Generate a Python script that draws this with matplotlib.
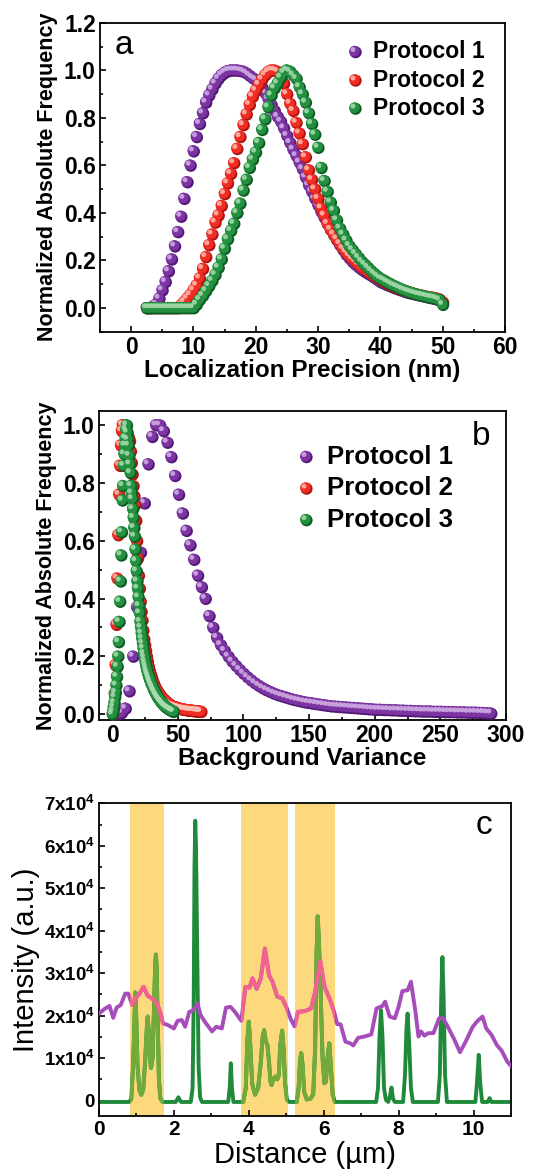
import numpy as np
import matplotlib
matplotlib.use("Agg")
import matplotlib.pyplot as plt
from matplotlib.transforms import ScaledTranslation
from matplotlib.patches import Rectangle
from matplotlib.ticker import MultipleLocator, FuncFormatter

plt.rcParams['font.family'] = ['Liberation Sans', 'DejaVu Sans']
plt.rcParams['font.weight'] = 'bold'
plt.rcParams['mathtext.fontset'] = 'custom'
plt.rcParams['mathtext.rm'] = 'Liberation Sans'
plt.rcParams['mathtext.bf'] = 'Liberation Sans:bold'

# ---------------- Panel a data ----------------
a_start, a_step = 2.5, 0.5   # bin grid (nm)
a_p1 = [0.0, 0.0, 0.005, 0.015, 0.04, 0.075, 0.11, 0.155, 0.205, 0.26,
        0.32, 0.385, 0.46, 0.53, 0.60, 0.66, 0.72, 0.775, 0.82, 0.865,
        0.895, 0.92, 0.945, 0.965, 0.98, 0.99, 0.997, 1.0, 1.0, 1.0,
        0.998, 0.995, 0.988, 0.978, 0.968, 0.96, 0.945, 0.928, 0.905, 0.88,
        0.855, 0.83, 0.805, 0.785, 0.757, 0.725, 0.695, 0.667, 0.64, 0.613,
        0.585, 0.55, 0.517, 0.49, 0.46, 0.433, 0.405, 0.38, 0.355, 0.33,
        0.308, 0.286, 0.265, 0.245, 0.225, 0.21, 0.195, 0.183, 0.172, 0.162,
        0.153, 0.145, 0.137, 0.128, 0.119, 0.11, 0.104, 0.098, 0.093, 0.087,
        0.082, 0.077, 0.073, 0.068, 0.064, 0.061, 0.058, 0.055, 0.052, 0.049,
        0.046, 0.043, 0.04, 0.037, 0.033, 0.02]
a_p2 = [0.0, 0.0, 0.0, 0.0, 0.0, 0.0, 0.0, 0.0, 0.0, 0.0,
        0.0, 0.01, 0.025, 0.04, 0.055, 0.075, 0.095, 0.125, 0.165, 0.215,
        0.265, 0.31, 0.36, 0.39, 0.43, 0.48, 0.525, 0.565, 0.61, 0.67,
        0.72, 0.77, 0.815, 0.855, 0.89, 0.915, 0.94, 0.962, 0.98, 0.993,
        1.0, 1.0, 0.995, 0.97, 0.945, 0.9, 0.86, 0.83, 0.78, 0.735,
        0.69, 0.635, 0.58, 0.54, 0.50, 0.46, 0.42, 0.39, 0.355, 0.33,
        0.31, 0.29, 0.27, 0.25, 0.235, 0.22, 0.207, 0.195, 0.183, 0.172,
        0.162, 0.153, 0.144, 0.135, 0.127, 0.119, 0.111, 0.104, 0.098, 0.092,
        0.086, 0.08, 0.076, 0.072, 0.068, 0.064, 0.06, 0.057, 0.054, 0.051,
        0.048, 0.046, 0.044, 0.041, 0.037, 0.025]
a_p3 = [0.0, 0.0, 0.0, 0.0, 0.0, 0.0, 0.0, 0.0, 0.0, 0.0,
        0.0, 0.0, 0.0, 0.0, 0.0, 0.0, 0.015, 0.035, 0.052, 0.072,
        0.093, 0.115, 0.14, 0.17, 0.205, 0.25, 0.29, 0.325, 0.355, 0.40,
        0.44, 0.495, 0.54, 0.59, 0.625, 0.655, 0.695, 0.75, 0.795, 0.845,
        0.895, 0.925, 0.945, 0.97, 0.99, 1.0, 0.995, 0.98, 0.965, 0.93,
        0.9, 0.865, 0.82, 0.775, 0.73, 0.675, 0.59, 0.535, 0.49, 0.445,
        0.41, 0.37, 0.335, 0.31, 0.285, 0.262, 0.245, 0.228, 0.212, 0.196,
        0.183, 0.17, 0.157, 0.145, 0.134, 0.124, 0.118, 0.11, 0.103, 0.096,
        0.09, 0.084, 0.078, 0.073, 0.068, 0.064, 0.06, 0.056, 0.053, 0.05,
        0.047, 0.044, 0.042, 0.038, 0.033, 0.014]

# ---------------- Panel b data ----------------
b1_start, b1_step = 1.5, 2.9
b_p1 = [0.0, 0.0, 0.005, 0.02, 0.08, 0.20, 0.37, 0.56, 0.73, 0.865,
        0.96, 1.0, 1.0, 0.98, 0.94, 0.89, 0.825, 0.76, 0.695, 0.635,
        0.585, 0.535, 0.48, 0.44, 0.40, 0.34, 0.30, 0.265, 0.24, 0.22,
        0.2, 0.183, 0.168, 0.154, 0.141, 0.129, 0.118, 0.108, 0.099, 0.091,
        0.084, 0.078, 0.072, 0.067, 0.063, 0.059, 0.055, 0.051, 0.048, 0.045,
        0.042, 0.04, 0.038, 0.036, 0.034, 0.032, 0.03, 0.028, 0.027, 0.026,
        0.025, 0.024, 0.023, 0.022, 0.021, 0.02, 0.019, 0.018, 0.017, 0.016,
        0.016, 0.015, 0.015, 0.014, 0.014, 0.013, 0.013, 0.012, 0.012, 0.011,
        0.011, 0.01, 0.01, 0.01, 0.009, 0.009, 0.009, 0.008, 0.008, 0.008,
        0.007, 0.007, 0.007, 0.006, 0.006, 0.006, 0.005, 0.005, 0.004, 0.003]
b2_start, b2_step = 0.5, 0.68
b_p2 = [0.0, 0.02, 0.07, 0.17, 0.31, 0.47, 0.62, 0.76, 0.86, 0.93,
        0.98, 1.0, 1.0, 0.995, 0.99, 0.98, 0.97, 0.96, 0.955, 0.945,
        0.91, 0.87, 0.83, 0.79, 0.755, 0.725, 0.67, 0.60, 0.54, 0.48,
        0.435, 0.39, 0.355, 0.325, 0.29, 0.26, 0.24, 0.22, 0.2, 0.183,
        0.166, 0.153, 0.142, 0.132, 0.122, 0.113, 0.105, 0.097, 0.09, 0.085,
        0.08, 0.075, 0.071, 0.066, 0.062, 0.058, 0.055, 0.052, 0.049, 0.046,
        0.043, 0.04, 0.038, 0.036, 0.034, 0.031, 0.029, 0.028, 0.027, 0.026,
        0.025, 0.024, 0.023, 0.022, 0.021, 0.02, 0.019, 0.018, 0.018, 0.017,
        0.016, 0.016, 0.015, 0.015, 0.014, 0.014, 0.013, 0.013, 0.013, 0.012,
        0.012, 0.012, 0.011, 0.011, 0.011, 0.01, 0.01, 0.01, 0.009, 0.009]
b3_start, b3_step = 0.3, 0.47
b_p3 = [0.0, 0.01, 0.025, 0.04, 0.06, 0.075, 0.10, 0.13, 0.165, 0.2,
        0.25, 0.32, 0.39, 0.46, 0.55, 0.63, 0.74, 0.79, 0.86, 0.9,
        0.93, 0.955, 0.985, 1.0, 0.975, 0.95, 0.93, 0.895, 0.865, 0.835,
        0.79, 0.765, 0.745, 0.71, 0.68, 0.645, 0.615, 0.57, 0.53, 0.495,
        0.46, 0.435, 0.405, 0.375, 0.35, 0.32, 0.3, 0.28, 0.262, 0.245,
        0.228, 0.21, 0.196, 0.183, 0.172, 0.162, 0.152, 0.144, 0.137, 0.13,
        0.123, 0.117, 0.111, 0.105, 0.1, 0.095, 0.09, 0.085, 0.081, 0.077,
        0.072, 0.068, 0.064, 0.06, 0.057, 0.054, 0.051, 0.048, 0.045, 0.042,
        0.04, 0.037, 0.035, 0.032, 0.03, 0.028, 0.026, 0.024, 0.023, 0.021,
        0.02, 0.018, 0.017, 0.016, 0.014, 0.013, 0.012, 0.011, 0.01, 0.009]

# ---------------- Panel c data ----------------
green_x = [0.0, 0.80, 0.86, 0.91, 0.95, 0.97, 0.99, 1.03, 1.08, 1.13,
           1.18, 1.23, 1.28, 1.30, 1.33, 1.37, 1.39, 1.43, 1.47, 1.50,
           1.52, 1.54, 1.57, 1.60, 1.64, 1.70, 2.05, 2.12, 2.19, 2.45,
           2.50, 2.53, 2.55, 2.57, 2.59, 2.61, 2.63, 2.66, 2.70, 2.75,
           3.45, 3.49, 3.52, 3.55, 3.59, 3.85, 3.92, 3.96, 4.00, 4.04,
           4.09, 4.17, 4.25, 4.32, 4.37, 4.41, 4.45, 4.50, 4.54, 4.58,
           4.61, 4.65, 4.71, 4.76, 4.80, 4.84, 4.89, 4.93, 4.97, 5.02,
           5.08, 5.28, 5.33, 5.37, 5.40, 5.43, 5.48, 5.55, 5.65, 5.72,
           5.77, 5.81, 5.84, 5.87, 5.92, 5.97, 6.02, 6.06, 6.10, 6.15,
           6.19, 6.24, 6.30, 7.40, 7.45, 7.49, 7.53, 7.57, 7.61, 7.66,
           7.72, 7.77, 7.81, 7.85, 7.90, 8.12, 8.17, 8.21, 8.24, 8.28,
           8.33, 8.38, 9.05, 9.10, 9.14, 9.17, 9.20, 9.24, 9.29, 10.05,
           10.09, 10.14, 10.18, 10.23, 10.38, 10.43, 10.48, 11.0]
green_y = [-300, -300, 300, 8000, 20000, 25500, 21000, 8000, 2500, 1400,
           2500, 9000, 17500, 19800, 16000, 9000, 7700, 10000, 22000, 32000,
           34400, 31000, 18000, 5000, 500, -300, -300, 800, -300, -300,
           3000, 25000, 55000, 65900, 60000, 46000, 30000, 8000, 800, -300,
           -300, 3000, 8800, 3000, -300, -300, 3000, 14000, 18600, 13000,
           4000, 1400, 3000, 9000, 15000, 16600, 14000, 13000, 9000, 4500,
           3700, 5000, 5700, 5000, 6000, 13000, 16500, 12000, 4000, 200,
           -300, -300, 3000, 9500, 11200, 9000, 2000, 300, 500, 1500,
           12000, 35000, 43400, 38000, 25000, 10000, 4100, 4500, 10000, 13500,
           8000, 1500, -300, -300, 3000, 15000, 21300, 15000, 3000, 200,
           -300, 1000, 3100, 500, -300, -300, 6000, 17000, 20500, 14000,
           3000, -300, -300, 6000, 25000, 33800, 25000, 6000, -300, -300,
           4000, 10800, 4000, -300, -300, 600, -300, -300]
purple_x = [0.0, 0.15, 0.28, 0.38, 0.47, 0.58, 0.70, 0.78, 0.89, 0.99,
            1.08, 1.19, 1.30, 1.41, 1.54, 1.63, 1.71, 1.84, 2.00, 2.10,
            2.21, 2.30, 2.41, 2.52, 2.63, 2.71, 2.84, 3.02, 3.13, 3.28,
            3.39, 3.51, 3.63, 3.80, 3.91, 4.02, 4.10, 4.21, 4.32, 4.43,
            4.54, 4.63, 4.76, 4.89, 5.02, 5.12, 5.22, 5.31, 5.50, 5.66,
            5.76, 5.91, 6.02, 6.17, 6.28, 6.36, 6.45, 6.58, 6.71, 6.79,
            6.92, 7.09, 7.27, 7.41, 7.57, 7.64, 7.76, 7.90, 8.00, 8.10,
            8.24, 8.33, 8.45, 8.53, 8.60, 8.69, 8.79, 8.93, 9.08, 9.19,
            9.29, 9.47, 9.64, 9.79, 9.98, 10.11, 10.24, 10.34, 10.48, 10.63,
            10.75, 10.90, 11.00]
purple_y = [20500, 21600, 22300, 19500, 21900, 22500, 25200, 25200, 22500, 24200,
            25200, 26800, 24700, 24100, 23100, 20900, 18200, 17800, 17000, 18800,
            19000, 17400, 20900, 21300, 22900, 20200, 18400, 16300, 17400, 17000,
            21900, 22100, 20900, 18800, 26800, 26600, 28800, 26300, 28800, 35800,
            29500, 28100, 24500, 24100, 21700, 19200, 17500, 20900, 21100, 21700,
            25200, 32800, 26800, 23700, 20900, 18000, 18000, 13900, 13500, 13000,
            14800, 15100, 15600, 21700, 22300, 23300, 19800, 19400, 22100, 25800,
            26000, 28000, 20900, 15100, 16300, 15300, 15900, 15900, 19400, 19400,
            17800, 14700, 11400, 13900, 17400, 18800, 19800, 17000, 15500, 13000,
            11800, 9200, 8200]
bands = [(0.82, 1.74), (3.78, 5.05), (5.23, 6.30)]

# ---------------- Figure ----------------
fig = plt.figure(figsize=(5.43, 11.73), dpi=100)
ax_a = fig.add_axes([0.1842, 0.7172, 0.7459, 0.2634])
ax_b = fig.add_axes([0.1823, 0.3862, 0.7495, 0.2637])
ax_c = fig.add_axes([0.1823, 0.0486, 0.7587, 0.2666])

C_P1 = ('#7d34a3', '#521875', '#d2b0e4')
C_P2 = ('#f02c24', '#ad1410', '#ffbcb0')
C_P3 = ('#23913f', '#0e5c24', '#a8dcb0')
MS = 76


def balls(ax, x, y, cols, s=MS, zorder=3, transform=None):
    base, dark, light = cols
    t0 = transform if transform is not None else ax.transData
    ax.scatter(x, y, s=s, color=dark, edgecolors='none', zorder=zorder,
               transform=t0 + ScaledTranslation(0.3 / 72, -0.3 / 72, fig.dpi_scale_trans),
               clip_on=False)
    ax.scatter(x, y, s=s * 0.78, color=base, edgecolors='none', zorder=zorder,
               transform=t0 + ScaledTranslation(-0.5 / 72, 0.5 / 72, fig.dpi_scale_trans),
               clip_on=False)
    ax.scatter(x, y, s=s * 0.17, color=light, alpha=0.85, edgecolors='none', zorder=zorder,
               transform=t0 + ScaledTranslation(-1.6 / 72, 1.6 / 72, fig.dpi_scale_trans),
               clip_on=False)


def style(ax, xmaj, xmin, ymaj, ymin, lab=16.5):
    for sp in ax.spines.values():
        sp.set_linewidth(1.3)
    ax.xaxis.set_major_locator(MultipleLocator(xmaj))
    ax.xaxis.set_minor_locator(MultipleLocator(xmin))
    ax.yaxis.set_major_locator(MultipleLocator(ymaj))
    ax.yaxis.set_minor_locator(MultipleLocator(ymin))
    ax.tick_params(which='both', direction='in', top=False, right=False, width=1.2)
    ax.tick_params(which='major', length=4.5, labelsize=lab, pad=3)
    ax.tick_params(which='minor', length=2.5)


def legend(ax, x0, xt, ys, fs):
    names = ['Protocol 1', 'Protocol 2', 'Protocol 3']
    for yy, nm, cc in zip(ys, names, [C_P1, C_P2, C_P3]):
        balls(ax, [x0], [yy], cc, transform=ax.transAxes, zorder=5)
        ax.text(xt, yy, nm, transform=ax.transAxes, fontsize=fs, fontweight='bold',
                va='center', ha='left')


# ---- panel a
xa = a_start + a_step * np.arange(len(a_p1))
balls(ax_a, xa, a_p1, C_P1)
balls(ax_a, xa, a_p2, C_P2)
balls(ax_a, xa, a_p3, C_P3)
ax_a.set_xlim(-5, 60)
ax_a.set_ylim(-0.1, 1.2)
style(ax_a, 10, 5, 0.2, 0.1)
ax_a.yaxis.set_major_formatter(FuncFormatter(lambda v, p: f'{v:.1f}'))
ax_a.set_xlabel('Localization Precision (nm)', fontsize=17.5, fontweight='bold', labelpad=0)
ax_a.set_ylabel('Normalized Absolute Frequency', fontsize=15.5, fontweight='bold', labelpad=4)
ax_a.text(0.058, 0.925, 'a', transform=ax_a.transAxes, fontsize=24, fontweight='normal',
          ha='center', va='center')
legend(ax_a, 0.63, 0.675, [0.906, 0.814, 0.723], 16.5)

# ---- panel b
xb1 = b1_start + b1_step * np.arange(len(b_p1))
xb2 = b2_start + b2_step * np.arange(len(b_p2))
xb3 = b3_start + b3_step * np.arange(len(b_p3))
balls(ax_b, xb1, b_p1, C_P1)
balls(ax_b, xb2, b_p2, C_P2)
balls(ax_b, xb3, b_p3, C_P3)
ax_b.set_xlim(-10, 300)
ax_b.set_ylim(-0.02, 1.05)
style(ax_b, 50, 25, 0.2, 0.1)
ax_b.yaxis.set_major_formatter(FuncFormatter(lambda v, p: f'{v:.1f}'))
ax_b.set_xlabel('Background Variance', fontsize=17.5, fontweight='bold', labelpad=0)
ax_b.set_ylabel('Normalized Absolute Frequency', fontsize=15.5, fontweight='bold', labelpad=4)
ax_b.text(0.94, 0.916, 'b', transform=ax_b.transAxes, fontsize=24, fontweight='normal',
          ha='center', va='center')
legend(ax_b, 0.509, 0.56, [0.851, 0.749, 0.647], 18.5)

# ---- panel c
for (x0, x1) in bands:
    ax_c.axvspan(x0, x1, color='#fcd97c', lw=0, zorder=1)
ax_c.plot(green_x, green_y, color='#1f8a3a', lw=2.8, zorder=2, solid_joinstyle='round')
ax_c.plot(purple_x, purple_y, color='#a64dbb', lw=2.8, zorder=3, solid_joinstyle='round')
for (x0, x1) in bands:
    rect = Rectangle((x0, -1e6), x1 - x0, 2e6, transform=ax_c.transData)
    lg, = ax_c.plot(green_x, green_y, color='#72aa3c', lw=2.8, zorder=2.5,
                    solid_joinstyle='round')
    lg.set_clip_path(rect)
    lp, = ax_c.plot(purple_x, purple_y, color='#f2638f', lw=2.8, zorder=3.5,
                    solid_joinstyle='round')
    lp.set_clip_path(rect)
ax_c.set_xlim(0, 11)
ax_c.set_ylim(-3600, 70000)
style(ax_c, 2, 1, 10000, 5000, lab=15)
ax_c.tick_params(axis='y', labelsize=13.5)


def cfmt(v, p):
    n = int(round(v / 10000))
    if n == 0:
        return '0'
    return r'$\mathbf{%dx10^{4}}$' % n


ax_c.yaxis.set_major_formatter(FuncFormatter(cfmt))
ax_c.set_xlabel('Distance (µm)', fontsize=21, fontweight='normal', labelpad=1)
ax_c.set_ylabel('Intensity (a.u.)', fontsize=21, fontweight='normal', labelpad=3)
ax_c.text(0.934, 0.93, 'c', transform=ax_c.transAxes, fontsize=24, fontweight='normal',
          ha='center', va='center')

fig.savefig('out.png', dpi=100)
